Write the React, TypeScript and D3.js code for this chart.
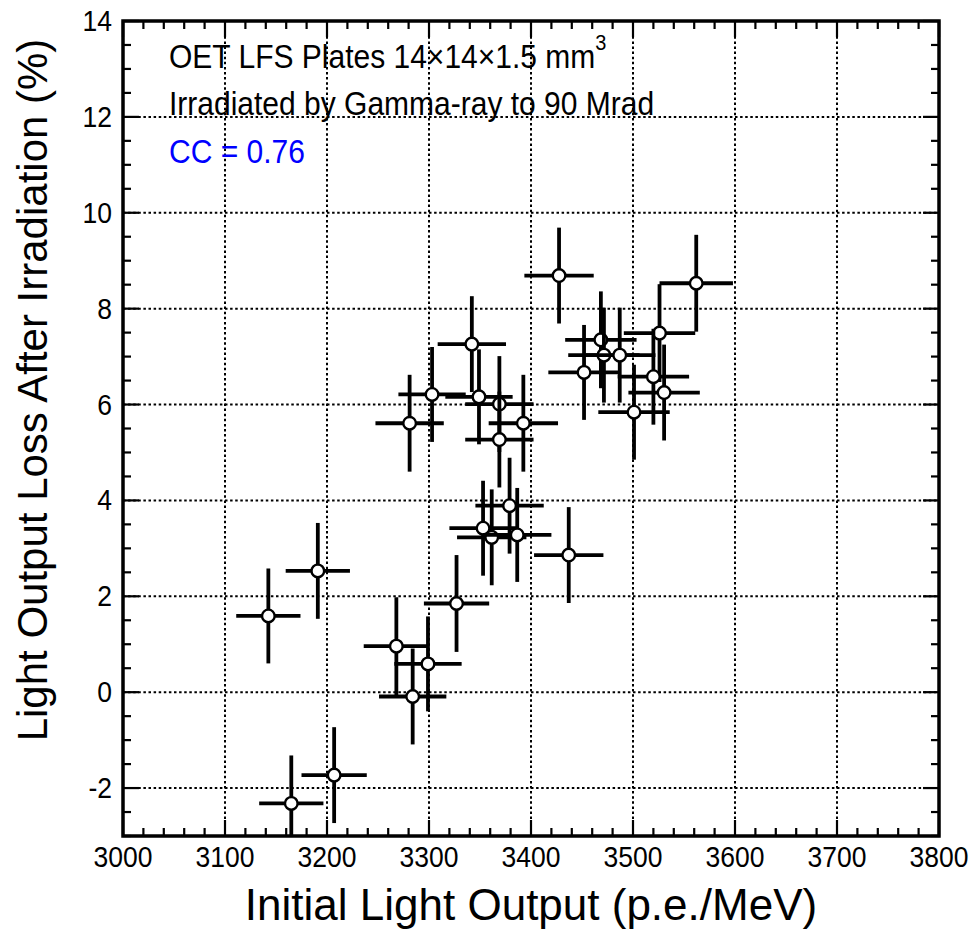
import React from "react";
import * as d3 from "d3";

// Initial light output (p.e./MeV) and its uncertainty
const lightOutput = [
  3142.5, 3191, 3165, 3207, 3268, 3299, 3284, 3327, 3281, 3303,
  3342, 3349, 3369, 3369, 3392.5, 3379, 3353, 3361.5, 3386.5, 3437,
  3427.5, 3562, 3526, 3468.5, 3471.5, 3487, 3452, 3520, 3530.5, 3501,
];
const lightOutputErr = [
  31.5, 31.5, 31.5, 32, 32, 33, 33, 32, 33.5, 33,
  33.5, 33, 33.5, 33.5, 34, 33.5, 33, 34, 33.5, 34,
  34, 36, 35, 35, 35, 35, 35, 35, 35, 35,
];
// Light output loss after irradiation (%) and its uncertainty
const lossPct = [
  1.59, 2.53, -2.32, -1.73, 0.96, 0.59, -0.09, 1.85, 5.61, 6.21,
  7.26, 6.16, 6.01, 5.27, 5.61, 3.89, 3.42, 3.23, 3.28, 2.86,
  8.69, 8.53, 7.49, 7.35, 7.03, 7.03, 6.67, 6.58, 6.25, 5.84,
];
const lossErr = [
  0.99, 1.0, 1.0, 1.0, 1.02, 0.99, 1.0, 1.01, 1.01, 0.99,
  1.0, 0.99, 1.0, 1.0, 1.01, 1.0, 0.99, 1.0, 0.98, 1.0,
  1.0, 1.01, 1.02, 1.01, 0.99, 0.99, 0.99, 1.0, 1.0, 0.99,
];

const xTickValues = [3000, 3100, 3200, 3300, 3400, 3500, 3600, 3700, 3800];
const yTickValues = [-2, 0, 2, 4, 6, 8, 10, 12, 14];

const xTitle = "Initial Light Output (p.e./MeV)";
const yTitle = "Light Output Loss After Irradiation (%)";
const noteLine1 = "OET LFS Plates 14\u00d714\u00d71.5 mm";
const noteLine2 = "Irradiated by Gamma-ray to 90 Mrad";
const noteLine3 = "CC = 0.76";

const W = 971;
const H = 930;
const L = 123, R = 939, T = 21, B = 836;
const FONT = "'Liberation Sans', Arial, Helvetica, sans-serif";

export default function App() {
  const x = d3.scaleLinear().domain([3000, 3800]).range([L, R]);
  const y = d3.scaleLinear().domain([-3, 14]).range([B, T]);

  const xMinor = d3.range(3000, 3800.001, 20);
  const yMinor = d3.range(-3, 14.001, 0.5);
  const xMajorSet = new Set(xTickValues);
  const yMajorSet = new Set(yTickValues);

  const points = lightOutput.map((v, i) => ({
    x: v,
    y: lossPct[i],
    ex: lightOutputErr[i],
    ey: lossErr[i],
  }));

  const grid = { stroke: "#000", strokeWidth: 2, strokeDasharray: "2.5,2.6" };

  return (
    <svg
      width={W}
      height={H}
      style={{ position: "absolute", left: 0, top: 0, display: "block", background: "#fff" }}
      fontFamily={FONT}
    >
      <rect x={0} y={0} width={W} height={H} fill="#fff" />
      <defs>
        <clipPath id="plotArea">
          <rect x={L} y={T} width={R - L} height={B - T} />
        </clipPath>
      </defs>

      {/* dotted grid at major ticks */}
      {xTickValues
        .filter((v) => v > 3000 && v < 3800)
        .map((v) => (
          <line key={"gx" + v} x1={x(v)} x2={x(v)} y1={T} y2={B} {...grid} />
        ))}
      {yTickValues
        .filter((v) => v > -3 && v < 14)
        .map((v) => (
          <line key={"gy" + v} x1={L} x2={R} y1={y(v)} y2={y(v)} {...grid} />
        ))}

      {/* tick marks on all four sides, pointing inward */}
      {xMinor.map((v) => {
        const major = xMajorSet.has(Math.round(v));
        const len = major ? 16 : 8;
        const px = x(v);
        return (
          <g key={"tx" + v} stroke="#000" strokeWidth={2.2}>
            <line x1={px} x2={px} y1={B} y2={B - len} />
            <line x1={px} x2={px} y1={T} y2={T + len} />
          </g>
        );
      })}
      {yMinor.map((v) => {
        const major = yMajorSet.has(v);
        const len = major ? 16 : 8;
        const py = y(v);
        return (
          <g key={"ty" + v} stroke="#000" strokeWidth={2.2}>
            <line x1={L} x2={L + len} y1={py} y2={py} />
            <line x1={R} x2={R - len} y1={py} y2={py} />
          </g>
        );
      })}

      {/* data: error bars and open markers */}
      <g clipPath="url(#plotArea)">
        {points.map((p, i) => (
          <g key={"p" + i}>
            <line
              x1={x(p.x - p.ex)}
              x2={x(p.x + p.ex)}
              y1={y(p.y)}
              y2={y(p.y)}
              stroke="#000"
              strokeWidth={3.8}
            />
            <line
              x1={x(p.x)}
              x2={x(p.x)}
              y1={y(p.y - p.ey)}
              y2={y(p.y + p.ey)}
              stroke="#000"
              strokeWidth={3.8}
            />
            <circle cx={x(p.x)} cy={y(p.y)} r={6.3} fill="#fff" stroke="#000" strokeWidth={2.4} />
          </g>
        ))}
      </g>

      {/* frame */}
      <rect x={L} y={T} width={R - L} height={B - T} fill="none" stroke="#000" strokeWidth={3.5} />

      {/* tick labels */}
      {xTickValues.map((v) => (
        <text
          key={"lx" + v}
          transform={`translate(${x(v)},${867}) scale(1,1.08)`}
          textAnchor="middle"
          fontSize={26.5}
          fill="#000"
        >
          {v}
        </text>
      ))}
      {yTickValues.map((v) => (
        <text
          key={"ly" + v}
          transform={`translate(112,${y(v) + 10}) scale(1,1.08)`}
          textAnchor="end"
          fontSize={26.5}
          fill="#000"
        >
          {v}
        </text>
      ))}

      {/* axis titles */}
      <text x={(L + R) / 2} y={920} textAnchor="middle" fontSize={44} fill="#000">
        {xTitle}
      </text>
      <text
        transform={`translate(47,390) rotate(-90)`}
        textAnchor="middle"
        fontSize={42}
        fill="#000"
      >
        {yTitle}
      </text>

      {/* annotations */}
      <text transform="translate(169,68) scale(1,1.08)" fontSize={30} fill="#000">
        {noteLine1}
        <tspan fontSize={20} dy={-17}>3</tspan>
      </text>
      <text transform="translate(169,115) scale(1,1.08)" fontSize={30} fill="#000">
        {noteLine2}
      </text>
      <text transform="translate(169,163) scale(1,1.08)" fontSize={30} fill="#0000ff">
        {noteLine3}
      </text>
    </svg>
  );
}
